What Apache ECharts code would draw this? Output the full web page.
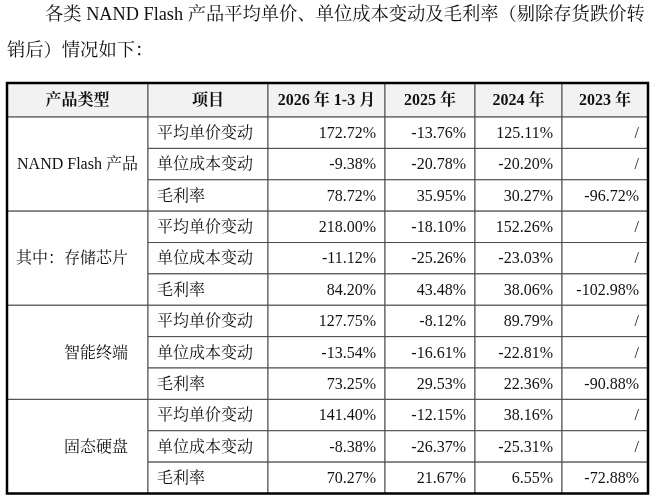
<!DOCTYPE html>
<html>
<head>
<meta charset="utf-8">
<script src="https://cdn.jsdelivr.net/npm/echarts@6.0.0/dist/echarts.min.js"></script>
<style>
  html, body { margin: 0; padding: 0; background: #fff; }
  #main { width: 667px; height: 497px; }
</style>
</head>
<body>
<div id="main"></div>
<script>
// 表头
var headCols = ['产品类型', '项目'];
var periods = ['2026 年 1-3 月', '2025 年', '2024 年', '2023 年'];
// 产品类型 / 项目
var groups = ['NAND Flash 产品', '其中：存储芯片', '智能终端', '固态硬盘'];
var items = ['平均单价变动', '单位成本变动', '毛利率'];
// 每组三行：平均单价变动、单位成本变动、毛利率（null 表示 “/”）
var nandFlash = [
  [172.72, -13.76, 125.11, null],
  [-9.38, -20.78, -20.20, null],
  [78.72, 35.95, 30.27, -96.72]
];
var storageChip = [
  [218.00, -18.10, 152.26, null],
  [-11.12, -25.26, -23.03, null],
  [84.20, 43.48, 38.06, -102.98]
];
var smartTerminal = [
  [127.75, -8.12, 89.79, null],
  [-13.54, -16.61, -22.81, null],
  [73.25, 29.53, 22.36, -90.88]
];
var ssd = [
  [141.40, -12.15, 38.16, null],
  [-8.38, -26.37, -25.31, null],
  [70.27, 21.67, 6.55, -72.88]
];
var groupValues = [nandFlash, storageChip, smartTerminal, ssd];

var titleLine1 = '各类 NAND Flash 产品平均单价、单位成本变动及毛利率（剔除存货跌价转';
var titleLine2 = '销后）情况如下：';

// 版式
var colWidths = [141, 120, 117, 90, 87, 86];
var headH = 1.085;   // 表头高度（以行高为单位）
var FONT = '"Liberation Serif", "Noto Serif CJK SC", "Noto Sans CJK SC", serif';

var colEdges = [0];
colWidths.forEach(function (w, i) { colEdges.push(colEdges[i] + w); });
var rowTop = function (r) { return headH + r; };
var fmt = function (v) { return v === null ? '/' : v.toFixed(2) + '%'; };

// 把所有单元格拼成 custom series 的数据
var cells = [];
headCols.concat(periods).forEach(function (t, c) {
  cells.push({ value: [colEdges[c], 0, colEdges[c + 1], headH], text: t, align: 'center', head: true });
});
groups.forEach(function (g, gi) {
  var r0 = gi * items.length;
  cells.push({ value: [colEdges[0], rowTop(r0), colEdges[1], rowTop(r0 + items.length)], text: g, align: gi === 0 ? 'center' : 'rightIn' });
  items.forEach(function (it, ii) {
    var r = r0 + ii;
    cells.push({ value: [colEdges[1], rowTop(r), colEdges[2], rowTop(r + 1)], text: it, align: 'left' });
    groupValues[gi][ii].forEach(function (v, pi) {
      cells.push({ value: [colEdges[pi + 2], rowTop(r), colEdges[pi + 3], rowTop(r + 1)], text: fmt(v), align: 'right' });
    });
  });
});
var totalRows = rowTop(groups.length * items.length);

function renderCell(params, api) {
  var cell = cells[params.dataIndex];
  var p0 = api.coord([api.value(0), api.value(1)]);
  var p1 = api.coord([api.value(2), api.value(3)]);
  var x0 = p0[0], y0 = p0[1], x1 = p1[0], y1 = p1[1];
  var tx = (x0 + x1) / 2, ta = 'center';
  if (cell.align === 'left') { tx = x0 + 9; ta = 'left'; }
  if (cell.align === 'right') { tx = x1 - 9; ta = 'right'; }
  if (cell.align === 'rightIn') { tx = x1 - 20; ta = 'right'; }
  return {
    type: 'group',
    children: [{
      type: 'rect',
      shape: { x: x0, y: y0, width: x1 - x0, height: y1 - y0 },
      style: { fill: cell.head ? '#f2f2f2' : '#fff', stroke: '#4a4a4a', lineWidth: 1 }
    }, {
      type: 'text',
      style: {
        text: cell.text, x: tx, y: (y0 + y1) / 2 + 1,
        align: ta, verticalAlign: 'middle', fill: '#111',
        font: (cell.head ? 'bold ' : '') + '16px ' + FONT
      }
    }]
  };
}

var chart = echarts.init(document.getElementById('main'));
chart.setOption({
  animation: false,
  grid: { left: 7, right: 19, top: 83, bottom: 3.5 },
  xAxis: { type: 'value', min: 0, max: colEdges[colEdges.length - 1], show: false },
  yAxis: { type: 'value', min: 0, max: totalRows, inverse: true, show: false },
  graphic: [
    { type: 'text', left: 45, top: 6, style: { text: titleLine1, fill: '#111', font: '18.3px ' + FONT } },
    { type: 'text', left: 7, top: 42, style: { text: titleLine2, fill: '#111', font: '18.3px ' + FONT } }
  ],
  series: [{
    type: 'custom',
    renderItem: renderCell,
    data: cells,
    z: 2
  }, {
    // 外框加粗
    type: 'custom',
    data: [[0, 0, colEdges[colEdges.length - 1], totalRows]],
    renderItem: function (params, api) {
      var p0 = api.coord([api.value(0), api.value(1)]);
      var p1 = api.coord([api.value(2), api.value(3)]);
      return {
        type: 'rect',
        shape: { x: p0[0], y: p0[1], width: p1[0] - p0[0], height: p1[1] - p0[1] },
        style: { fill: null, stroke: '#000', lineWidth: 2.5 }
      };
    },
    z: 3
  }]
});
</script>
</body>
</html>
